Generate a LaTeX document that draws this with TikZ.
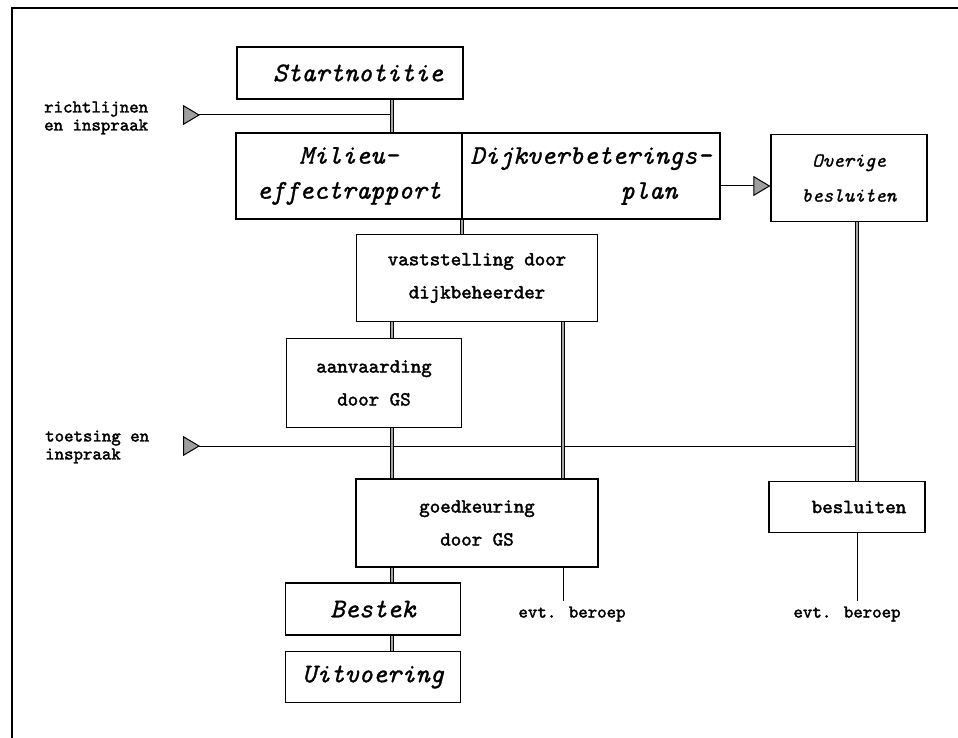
\documentclass[tikz,border=0pt]{standalone}
\usepackage{fontspec}
\usepackage{tikz}
\usetikzlibrary{calc,arrows.meta,positioning}

\newfontfamily\steptt{lmmono10-regular.otf}[FakeBold=2]
\newfontfamily\titlett{lmmono10-italic.otf}[FakeBold=1]

\tikzset{
  box/.style={draw,line width=1.2pt,inner sep=0pt,align=center},
  titlebox/.style={box,font=\fontsize{27}{35}\selectfont\titlett},
  stepbox/.style={box,font=\fontsize{20}{33}\selectfont\steptt},
  note/.style={inner sep=0pt,align=left,font=\fontsize{18}{18}\selectfont\steptt},
  pipe/.style={line width=1pt,double=gray!70,double distance=2.4pt},
  feed/.style={line width=1pt},
  tri/.tip={Triangle[fill=gray!75,length=17pt,width=20pt]},
}

\begin{document}
\begin{tikzpicture}[x=1pt,y=-1pt]
  \useasboundingbox (0,0) rectangle (958,738);
  \draw[line width=1.3pt] (12,738) -- (12,8) -- (958,8);
  % columns of the vertical lines
  \coordinate (c1) at (392,0);
  \coordinate (c2) at (462,0);
  \coordinate (c3) at (563,0);
  \coordinate (c4) at (857,0);

  \node (start) [titlebox,minimum width=226,minimum height=52] at (350,73) {\hspace*{0.6em}Startnotitie};
  \node (mer) [titlebox,minimum width=226,minimum height=86] at (349,176) {Milieu—\\effectrapport};
  \node (dvp) [titlebox,minimum width=258,minimum height=86] at (591,176) {Dijkverbeterings—\\\hspace*{4.3em}plan};
  \node (overig) [box,font=\fontsize{20}{35}\selectfont\titlett,minimum width=156,minimum height=87] at (849,178) {Overige\\besluiten};
  \node (vast) [stepbox,minimum width=241,minimum height=87] at (477,278) {vaststelling door\\dijkbeheerder};
  \node (aanv) [stepbox,minimum width=175,minimum height=89] at (374,383) {aanvaarding\\door GS};
  \node (goed) [stepbox,minimum width=242,minimum height=88] at (477,523) {goedkeuring\\door GS};
  \node (besl) [stepbox,minimum width=156,minimum height=51] at (847,507) {\hspace*{1.2em}besluiten};
  \node (bestek) [titlebox,minimum width=175,minimum height=52] at (373,609) {Bestek};
  \node (uitv) [titlebox,minimum width=175,minimum height=51] at (373,677) {Uitvoering};

  \node (rl) [note,anchor=west] at (44,118) {richtlijnen\\en inspraak};
  \node (ti) [note,anchor=west] at (45,447) {toetsing en\\inspraak};
  \node (ber1) [note] at (572,614) {evt. beroep};
  \node (ber2) [note] at (847,614) {evt. beroep};

  % inputs from the left
  \coordinate (t1) at (183,115);
  \coordinate (t2) at (183,446);
  \coordinate (d1) at ($(dvp.east)+(0,10)$);
  \draw[feed,{tri[reversed]}-] (t1) -- (t1 -| c1);
  \draw[feed,{tri[reversed]}-] (t2) -- (t2 -| c4);
  \draw[feed,-tri] (d1) -- (d1 -| overig.west);
  \draw[feed,shorten >=5pt] (goed.south -| c3) -- (ber1.north -| c3);
  \draw[feed,shorten >=5pt] (besl.south -| c4) -- (ber2.north -| c4);

  \draw[pipe] (start.south -| c1) -- (mer.north -| c1);
  \draw[pipe] (mer.south -| c2) -- (vast.north -| c2);
  \draw[pipe] (vast.south -| c1) -- (aanv.north -| c1);
  \draw[pipe] (aanv.south -| c1) -- (goed.north -| c1);
  \draw[pipe] (vast.south -| c3) -- (goed.north -| c3);
  \draw[pipe] (overig.south -| c4) -- (besl.north -| c4);
  \draw[pipe] (goed.south -| c1) -- (bestek.north -| c1);
  \draw[pipe] (bestek.south -| c1) -- (uitv.north -| c1);
\end{tikzpicture}
\end{document}
